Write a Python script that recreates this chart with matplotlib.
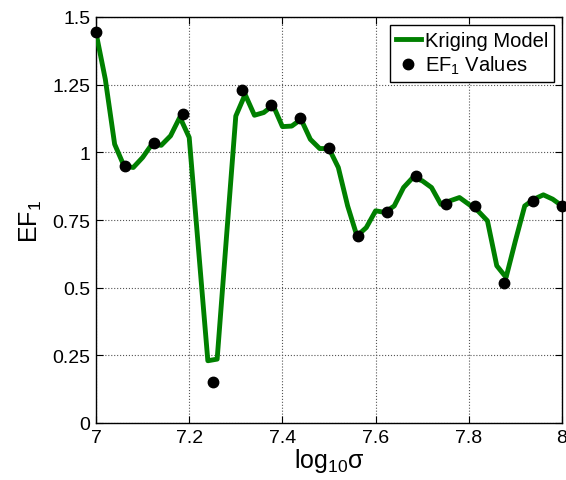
import matplotlib
matplotlib.use("Agg")
import matplotlib.pyplot as plt
import numpy as np

plt.rcParams['font.family'] = ['Liberation Sans', 'DejaVu Sans']
plt.rcParams['mathtext.fontset'] = 'custom'
plt.rcParams['mathtext.rm'] = 'Liberation Sans'
plt.rcParams['mathtext.it'] = 'Liberation Sans:italic'
plt.rcParams['mathtext.bf'] = 'Liberation Sans:bold'

# Kriging model curve (x = 7 + k/50)
model_x = np.linspace(7.0, 8.0, 51)
model_y = [1.442, 1.270, 1.030, 0.950, 0.944, 0.981, 1.030, 1.026, 1.061, 1.130,
           1.055, 0.642, 0.230, 0.236, 0.687, 1.134, 1.214, 1.137, 1.147, 1.174,
           1.095, 1.097, 1.122, 1.048, 1.014, 1.014, 0.944, 0.802, 0.691, 0.722,
           0.784, 0.778, 0.802, 0.870, 0.907, 0.895, 0.870, 0.808, 0.821, 0.833,
           0.808, 0.783, 0.747, 0.581, 0.538, 0.673, 0.802, 0.827, 0.843, 0.827,
           0.802]

# EF1 sample values
ef_x = np.linspace(7.0, 8.0, 17)
ef_y = [1.445, 0.948, 1.036, 1.142, 0.152, 1.232, 1.175, 1.128, 1.016, 0.691,
        0.779, 0.913, 0.808, 0.800, 0.516, 0.820, 0.800]

xticks = [7, 7.2, 7.4, 7.6, 7.8, 8]
xticklabels = ['7', '7.2', '7.4', '7.6', '7.8', '8']
yticks = [0, 0.25, 0.5, 0.75, 1, 1.25, 1.5]
yticklabels = ['0', '0.25', '0.5', '0.75', '1', '1.25', '1.5']

fig = plt.figure(figsize=(5.66, 4.81), dpi=100)
ax = fig.add_axes([96/566, 57/481, 466/566, 406/481])

ax.plot(model_x, model_y, color='#008000', lw=3.5, label='Kriging Model', zorder=3)
ax.plot(ef_x, ef_y, 'o', color='black', ms=7.5, label='EF$_1$ Values', zorder=4, clip_on=False)

ax.set_xlim(7, 8)
ax.set_ylim(0, 1.5)
ax.set_xticks(xticks)
ax.set_xticklabels(xticklabels)
ax.set_yticks(yticks)
ax.set_yticklabels(yticklabels)
ax.tick_params(direction='in', top=True, right=True, labelsize=14, length=5, width=0.8, pad=4)
ax.grid(True, linestyle=':', color='#555555', lw=0.8)
for s in ax.spines.values():
    s.set_linewidth(1.0)

ax.set_xlabel('log$_{10}$σ', fontsize=18, labelpad=0)
ax.set_ylabel('EF$_1$', fontsize=18, labelpad=6)

leg = ax.legend(loc='upper right', fontsize=14.5, handlelength=1.2, handletextpad=0.2,
                borderpad=0.3, labelspacing=0.2, fancybox=False, framealpha=1,
                edgecolor='black', borderaxespad=0.4)
leg.get_frame().set_linewidth(1.0)

fig.savefig('out.png', dpi=100)
